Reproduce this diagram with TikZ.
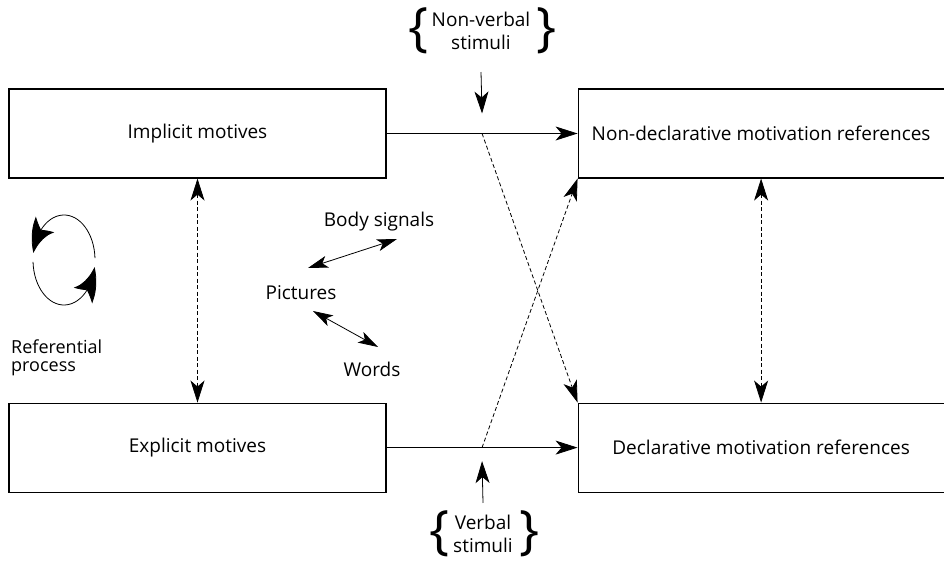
\documentclass[tikz,border=0pt]{standalone}
\usepackage{fontspec}
\setmainfont{Open Sans}
\usetikzlibrary{arrows.meta,bending,positioning}
\tikzstyle{block} = [draw, rectangle, line width=1.1pt, minimum width=377pt, minimum height=89pt, inner sep=0pt]
\tikzstyle{txt} = [inner sep=0pt, anchor=base]
\tikzstyle{stim} = [inner sep=0pt, align=center, font=\fontsize{19}{23}\selectfont]
\tikzstyle{brace} = [inner sep=0pt, font=\fontsize{53}{53}\selectfont]
\tikzstyle{link} = [line width=0.8pt]
\tikzstyle{dashlink} = [line width=0.8pt, dash pattern=on 4pt off 2.5pt]
\tikzstyle{turn} = [line width=0.8pt, -{Stealth[length=34pt,width=24pt,inset=8pt,bend]}]
\tikzstyle{small} = [line width=0.8pt, {Stealth[length=20pt,width=12pt,inset=5pt]}-{Stealth[length=20pt,width=12pt,inset=5pt]}]

\begin{document}
\begin{tikzpicture}[x=1pt, y=-1pt, >={Stealth[length=22pt,width=14pt,inset=6pt]}, font=\fontsize{19}{23}\selectfont]
\useasboundingbox (0,0) rectangle (944,561);

\node [block] (implicit) at (197.5,133.5) {Implicit motives};
\node [block, below=224pt of implicit] (explicit) {Explicit motives};
\node [block, minimum width=366pt, right=191pt of implicit] (nondecl) {Non-declarative motivation references};
\node [block, minimum width=366pt, below=224pt of nondecl] (decl) {Declarative motivation references};

\node [stim] (nonverbal) at (481,31) {Non-verbal\\stimuli};
\node [brace, left=3pt of nonverbal] (nvleft) {\{};
\node [brace, right=6pt of nonverbal] (nvright) {\}};
\node [stim] (verbal) at (483,534) {Verbal\\stimuli};
\node [brace, left=3pt of verbal] (vleft) {\{};
\node [brace, right=6pt of verbal] (vright) {\}};

\node [txt] (body) at (379,226) {Body signals};
\node [txt] (pictures) at (301,299) {Pictures};
\node [txt] (words) at (372,376) {Words};
\node [txt, anchor=north west, align=left, font=\fontsize{18}{18}\selectfont] (refproc) at (11,340) {Referential\\process};

\draw [->, link] (implicit) -- (nondecl);
\draw [->, link] (explicit) -- (decl);
\path (implicit) -- (nondecl) coordinate[pos=0.5] (topmid);
\path (explicit) -- (decl) coordinate[pos=0.5] (botmid);

\draw [->, link] ([yshift=-22pt]nonverbal.south) -- ([yshift=20pt]topmid);
\draw [->, link] ([yshift=12pt]verbal.north) -- ([yshift=-13.5pt]botmid);

\draw [->, dashlink] (topmid) -- (decl.north west);
\draw [->, dashlink] (botmid) -- (nondecl.south west);

\draw [<->, dashlink] (implicit) -- (explicit);
\draw [<->, dashlink] (nondecl) -- (decl);

\draw [small] ([shift={(7,-31)}]pictures.base) -- ([shift={(18,13)}]body.base);
\draw [small] ([shift={(12,12)}]pictures.base) -- ([shift={(6,-29)}]words.base);

\coordinate (loop) at (64,260);
\draw [turn] (loop) ++(-2.5:31 and 45) arc [start angle=-2.5, end angle=-171, x radius=31, y radius=45];
\draw [turn] (loop) ++(177.5:31 and 45) arc [start angle=177.5, end angle=9, x radius=31, y radius=45];

\end{tikzpicture}
\end{document}
